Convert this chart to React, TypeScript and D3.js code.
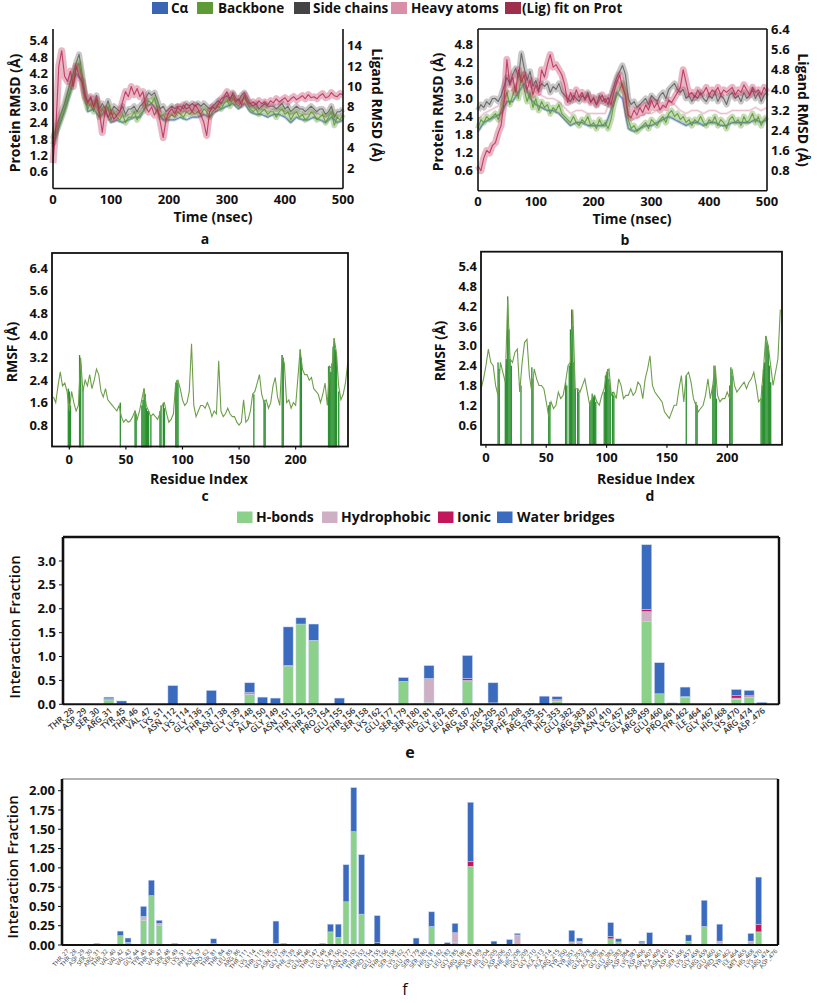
import React from "react";
import * as d3 from "d3";

// ---------------- DATA ----------------
const TIME_END = 500;
const legendTop = ["Cα", "Backbone", "Side chains", "Heavy atoms", "(Lig) fit on Prot"];

// Panel a (protein RMSD in Å on left axis, ligand RMSD on right axis)
const aCalpha = [1.5, 2.2, 2.8, 3.5, 4.2, 3.9, 2.8, 2.9, 2.6, 2.8, 2.4, 2.5, 2.4, 2.5, 2.6, 2.6, 3.0, 3.1, 2.8, 2.5, 2.5, 2.5, 2.6, 2.5, 2.6, 2.6, 2.7, 2.6, 2.8, 2.9, 3.0, 3.1, 2.9, 3.1, 2.8, 2.7, 2.7, 2.6, 2.7, 2.7, 2.6, 2.4, 2.6, 2.5, 2.5, 2.6, 2.5, 2.4, 2.6, 2.4, 2.5];
const aBackbone = [1.6, 2.0, 2.3, 2.6, 2.9, 3.3, 3.6, 4.0, 4.4, 4.6, 4.0, 3.3, 2.9, 3.1, 2.8, 3.2, 2.6, 2.9, 2.7, 3.0, 2.5, 2.8, 2.6, 2.5, 2.7, 2.4, 2.6, 2.6, 2.8, 2.5, 2.7, 2.8, 3.0, 3.2, 3.1, 3.3, 2.9, 2.6, 2.7, 2.5, 2.6, 2.7, 2.6, 2.8, 2.7, 2.6, 2.8, 2.7, 2.8, 2.7, 2.8, 2.7, 2.9, 2.8, 2.6, 2.8, 2.9, 3.0, 2.9, 3.1, 3.2, 3.0, 3.3, 3.1, 3.0, 3.2, 3.3, 3.1, 2.9, 2.8, 2.9, 2.7, 2.8, 2.9, 2.7, 2.8, 2.8, 2.6, 2.8, 2.9, 2.7, 2.8, 2.5, 2.7, 2.8, 2.6, 2.7, 2.5, 2.6, 2.8, 2.7, 2.5, 2.6, 2.7, 2.4, 2.6, 2.8, 2.3, 2.6, 2.5, 2.7];
const aSideChains = [1.8, 2.2, 2.5, 2.8, 3.1, 3.5, 3.9, 4.2, 4.6, 4.9, 4.2, 3.5, 3.1, 3.3, 3.0, 3.4, 2.9, 3.1, 2.9, 3.2, 2.8, 3.0, 2.9, 2.8, 3.0, 2.7, 2.9, 2.9, 3.0, 2.8, 3.0, 3.1, 3.3, 3.5, 3.4, 3.5, 3.2, 2.9, 3.0, 2.8, 2.9, 3.0, 2.9, 3.0, 3.0, 2.9, 3.1, 3.0, 3.1, 3.0, 3.1, 3.0, 3.1, 3.0, 2.9, 3.0, 3.1, 3.2, 3.1, 3.3, 3.4, 3.2, 3.5, 3.3, 3.2, 3.4, 3.5, 3.3, 3.1, 3.0, 3.1, 2.9, 3.0, 3.1, 3.0, 3.0, 3.0, 2.9, 3.0, 3.1, 2.9, 3.0, 2.8, 2.9, 3.0, 2.9, 2.9, 2.8, 2.9, 3.0, 2.9, 2.8, 2.9, 2.9, 2.7, 2.8, 3.0, 2.6, 2.8, 2.8, 2.9];
const aHeavy = [1.7, 2.4, 3.0, 3.8, 4.5, 4.1, 3.0, 3.2, 2.8, 3.0, 2.7, 2.7, 2.6, 2.7, 2.8, 2.8, 3.2, 3.3, 3.0, 2.7, 2.7, 2.8, 2.8, 2.8, 2.9, 2.8, 2.9, 2.9, 3.0, 3.1, 3.2, 3.3, 3.1, 3.3, 3.0, 2.9, 2.9, 2.8, 2.9, 2.9, 2.8, 2.7, 2.8, 2.7, 2.7, 2.8, 2.7, 2.6, 2.8, 2.6, 2.7];
const aLigFit = [2.5, 6, 12, 13.5, 11, 10.5, 11.5, 10, 12, 11, 10.5, 9, 8.5, 9, 8, 8.8, 7.5, 5.5, 7.8, 7, 7.5, 6.8, 7.2, 7.5, 8.5, 9.5, 9, 10, 9.2, 9.8, 9, 9.5, 8, 7.5, 8, 7.2, 7.8, 6.5, 5, 6.8, 7.5, 7.8, 7.3, 8, 7.6, 8.2, 7.8, 8.0, 7.5, 8.2, 7.8, 7.2, 6.5, 5.2, 7.5, 8, 7.8, 8.3, 8.8, 9, 9.5, 8.8, 9.2, 8.5, 8.8, 8.2, 9.2, 8.5, 8.3, 8.5, 8.2, 8.6, 8.3, 8.5, 8.2, 8.6, 8.4, 8.8, 8.5, 8.7, 8.9, 8.5, 8.8, 9, 8.7, 8.9, 9.1, 8.8, 9.2, 8.9, 9.0, 8.8, 9.1, 9.3, 8.9, 9.0, 9.4, 9.1, 9.0, 9.3, 9.2];

// Panel b
const bCalpha = [1.9, 2.2, 2.3, 2.4, 2.5, 2.9, 2.9, 3.2, 3.5, 3.0, 2.8, 2.7, 2.6, 2.6, 2.5, 2.3, 2.1, 2.2, 2.2, 2.1, 2.1, 2.1, 2.1, 2.6, 3.2, 3.0, 2.0, 1.9, 2.0, 2.1, 2.1, 2.2, 2.3, 2.4, 2.3, 2.2, 2.1, 2.2, 2.2, 2.1, 2.2, 2.2, 2.1, 2.1, 2.2, 2.2, 2.2, 2.2, 2.3, 2.2, 2.3];
const bBackbone = [2.0, 2.3, 2.2, 2.4, 2.3, 2.4, 2.5, 2.3, 2.6, 2.9, 3.2, 2.8, 3.1, 3.4, 3.0, 3.8, 3.3, 2.9, 3.2, 2.7, 3.0, 2.6, 2.9, 2.7, 2.8, 2.5, 2.7, 2.6, 2.8, 2.5, 2.4, 2.3, 2.2, 2.4, 2.2, 2.1, 2.3, 2.2, 2.4, 2.1, 2.2, 2.0, 2.3, 2.1, 2.2, 2.0, 2.3, 2.8, 3.1, 3.3, 3.5, 3.1, 2.3, 2.0, 2.1, 1.9, 2.0, 2.1, 2.2, 2.0, 2.3, 2.2, 2.1, 2.3, 2.4, 2.2, 2.5, 2.6, 2.4, 2.5, 2.3, 2.4, 2.2, 2.3, 2.1, 2.3, 2.2, 2.4, 2.2, 2.1, 2.3, 2.2, 2.4, 2.1, 2.3, 2.2, 2.0, 2.3, 2.4, 2.2, 2.3, 2.1, 2.4, 2.2, 2.3, 2.5, 2.2, 2.4, 2.1, 2.3, 2.4];
const bSideChains = [2.6, 2.8, 2.7, 2.9, 2.8, 3.0, 3.0, 2.9, 3.1, 3.4, 3.7, 3.5, 3.8, 4.0, 3.7, 4.5, 4.0, 3.6, 3.9, 3.4, 3.6, 3.3, 3.5, 3.4, 3.5, 3.2, 3.4, 3.3, 3.5, 3.2, 3.1, 3.0, 2.9, 3.1, 3.0, 2.9, 3.1, 3.0, 3.2, 2.9, 3.0, 2.8, 3.1, 2.9, 3.0, 2.8, 3.1, 3.4, 3.7, 3.9, 4.1, 3.8, 3.0, 2.8, 2.9, 2.7, 2.8, 2.9, 3.0, 2.8, 3.1, 3.0, 2.9, 3.1, 3.2, 3.0, 3.3, 3.4, 3.5, 3.3, 3.2, 3.3, 3.0, 3.1, 2.9, 3.1, 3.0, 3.2, 3.0, 2.9, 3.1, 3.0, 3.2, 2.9, 3.1, 3.0, 2.8, 3.1, 3.2, 3.0, 3.1, 2.9, 3.2, 3.0, 3.1, 3.3, 3.0, 3.2, 2.9, 3.1, 3.2];
const bHeavy = [2.3, 2.5, 2.6, 2.7, 2.8, 3.2, 3.3, 3.6, 3.9, 3.4, 3.2, 3.1, 3.0, 3.0, 2.9, 2.7, 2.5, 2.6, 2.6, 2.5, 2.5, 2.5, 2.5, 3.0, 3.6, 3.4, 2.4, 2.3, 2.4, 2.5, 2.5, 2.6, 2.7, 2.9, 2.8, 2.6, 2.5, 2.6, 2.6, 2.5, 2.6, 2.6, 2.5, 2.5, 2.6, 2.6, 2.6, 2.6, 2.7, 2.6, 2.7];
const bLigFit = [1.0, 0.8, 1.3, 1.6, 1.5, 1.8, 1.9, 2.3, 2.6, 3.5, 5.2, 4.2, 4.5, 3.9, 4.8, 4.3, 4.6, 4.0, 4.4, 3.8, 4.2, 3.9, 4.8, 4.5, 5.0, 5.4, 4.9, 5.0, 4.8, 4.6, 4.2, 3.5, 3.9, 3.6, 4.0, 3.7, 3.9, 3.6, 3.8, 3.5, 3.7, 3.4, 3.6, 3.8, 3.5, 3.7, 3.4, 3.9, 4.3, 4.6, 4.1, 3.8, 3.0, 2.9, 3.2, 3.0, 3.3, 3.1, 3.4, 3.2, 3.6, 3.3, 3.5, 3.2, 3.4, 3.3, 3.6, 3.5, 3.7, 3.9, 4.1, 4.8, 4.3, 3.8, 3.9, 3.7, 4.0, 3.8, 3.9, 4.1, 3.8, 4.0, 3.9, 4.1, 3.8, 4.0, 3.9, 4.0, 4.1, 3.8, 4.0, 3.9, 4.2, 4.0, 3.8, 4.1, 3.9, 4.0, 3.8, 4.1, 3.9];

const aLeftTicks = [0.6, 1.2, 1.8, 2.4, 3.0, 3.6, 4.2, 4.8, 5.4];
const aRightTicks = [2, 4, 6, 8, 10, 12, 14];
const bLeftTicks = [0.6, 1.2, 1.8, 2.4, 3.0, 3.6, 4.2, 4.8];
const bRightTicks = [0.8, 1.6, 2.4, 3.2, 4.0, 4.8, 5.6, 6.4];
const timeTicks = [0, 100, 200, 300, 400, 500];

// Panel c RMSF (residues -14..246 every 2)
const cResStart = -14;
const cResStep = 2;
const cRmsf = [1.8, 1.6, 2.2, 2.7, 2.2, 2.3, 2.0, 1.3, 2.0, 1.6, 1.3, 1.5, 3.2, 2.0, 2.4, 2.2, 2.6, 2.1, 2.4, 2.8, 2.6, 2.0, 1.8, 2.1, 1.7, 1.6, 1.5, 1.4, 1.3, 1.5, 1.1, 0.9, 1.0, 0.9, 0.95, 1.1, 1.3, 1.0, 1.3, 1.7, 2.1, 1.5, 1.3, 1.1, 1.2, 1.1, 1.0, 1.2, 1.5, 1.6, 1.2, 0.9, 1.0, 1.2, 2.3, 2.4, 2.1, 1.7, 1.5, 1.6, 2.0, 3.7, 1.5, 1.1, 1.3, 1.5, 1.5, 1.4, 1.6, 1.4, 1.1, 1.3, 1.2, 3.1, 1.3, 1.1, 1.2, 1.4, 1.2, 1.1, 1.1, 0.9, 0.8, 0.9, 1.7, 0.9, 1.0, 1.3, 1.9, 2.0, 2.3, 2.6, 1.9, 1.6, 1.7, 1.4, 1.6, 2.2, 2.5, 1.8, 1.5, 3.3, 3.0, 1.6, 1.7, 1.4, 1.6, 1.5, 2.5, 3.5, 2.8, 2.6, 2.6, 2.4, 2.5, 2.1, 2.0, 1.9, 1.6, 1.9, 2.3, 1.5, 2.9, 2.8, 3.9, 3.4, 2.2, 1.7, 1.9, 2.3, 3.0];
const cContactRes = [-1, 0, 1, 9, 10, 12, 45, 58, 59, 64, 65, 66, 67, 68, 69, 70, 72, 80, 81, 83, 84, 94, 95, 96, 163, 172, 173, 188, 189, 204, 205, 229, 230, 231, 232, 233, 234, 235, 236, 238];
const cContactVal = [2.1, 2.0, 1.5, 3.3, 3.0, 2.1, 1.6, 1.3, 1.2, 1.5, 1.7, 2.1, 1.9, 1.4, 1.3, 1.3, 1.1, 1.3, 1.5, 1.6, 1.4, 2.3, 2.4, 2.3, 1.9, 1.7, 1.6, 3.3, 3.2, 3.5, 3.2, 2.9, 2.8, 2.7, 3.0, 3.6, 3.9, 3.5, 3.3, 2.0];
const cYTicks = [0.8, 1.6, 2.4, 3.2, 4.0, 4.8, 5.6, 6.4];

// Panel d RMSF (residues -4..244 every 2)
const dResStart = -4;
const dResStep = 2;
const dRmsf = [1.7, 2.0, 2.4, 2.9, 2.5, 2.4, 1.8, 1.5, 2.5, 2.2, 1.9, 4.4, 2.6, 2.5, 2.8, 2.9, 1.6, 2.5, 3.1, 3.2, 2.1, 1.6, 2.3, 2.0, 1.8, 1.8, 1.7, 1.3, 0.85, 1.3, 1.1, 1.2, 1.6, 1.4, 1.5, 1.9, 2.4, 2.5, 4.1, 1.7, 1.7, 1.6, 1.8, 2.0, 1.6, 1.2, 1.4, 1.5, 1.3, 1.2, 1.5, 1.7, 2.2, 2.3, 1.5, 1.6, 1.4, 2.0, 1.8, 1.4, 1.5, 1.5, 1.7, 1.5, 1.6, 1.9, 1.8, 1.4, 2.0, 2.3, 2.7, 1.8, 1.6, 1.5, 1.4, 1.3, 1.0, 0.9, 0.8, 1.0, 1.2, 1.2, 1.7, 2.1, 1.3, 2.1, 2.2, 1.9, 1.4, 1.2, 1.0, 1.1, 1.2, 1.5, 2.0, 1.4, 1.8, 2.4, 1.5, 1.3, 1.4, 1.4, 1.6, 1.4, 2.3, 1.8, 1.6, 1.7, 1.8, 1.9, 1.7, 1.9, 2.0, 2.2, 1.8, 1.3, 1.4, 2.3, 3.3, 3.0, 2.4, 1.8, 2.2, 2.6, 4.1];
const dContactRes = [10, 11, 16, 17, 18, 19, 20, 21, 29, 38, 39, 52, 53, 66, 67, 69, 70, 71, 72, 73, 74, 76, 77, 86, 87, 88, 89, 90, 91, 98, 99, 100, 101, 102, 103, 105, 106, 166, 174, 175, 188, 189, 190, 191, 202, 203, 204, 228, 229, 230, 231, 232, 233, 234, 235, 236];
const dContactVal = [2.5, 2.3, 2.0, 2.6, 4.5, 3.5, 2.6, 2.4, 1.8, 2.35, 2.0, 1.2, 1.3, 1.9, 1.8, 2.4, 3.5, 4.1, 3.6, 2.5, 1.7, 1.7, 1.6, 1.3, 1.35, 1.55, 1.45, 1.5, 1.3, 1.6, 2.1, 2.2, 2.3, 2.0, 1.8, 1.6, 1.5, 2.1, 1.3, 1.2, 1.8, 2.4, 2.2, 1.4, 1.8, 2.35, 2.1, 1.4, 1.8, 2.3, 2.5, 3.3, 3.1, 3.0, 2.4, 1.9];
const dYTicks = [0.6, 1.2, 1.8, 2.4, 3.0, 3.6, 4.2, 4.8, 5.4];
const resTicks = [0, 50, 100, 150, 200];

// Panel e interactions
const legendInteractions = ["H-bonds", "Hydrophobic", "Ionic", "Water bridges"];
const eLabels = ["THR_28", "ASP_29", "SER_30", "ARG_31", "TYR_45", "THR_46", "VAL_47", "LYS_51", "ASN_112", "LYS_114", "GLY_136", "THR_137", "ASN_138", "GLY_139", "LYS_148", "ALA_150", "GLY_149", "ASN_151", "THR_152", "THR_153", "PRO_154", "GLU_155", "THR_156", "SER_158", "LYS_162", "GLU_177", "SER_179", "SER_180", "HIS_181", "GLY_182", "LEU_185", "ARG_187", "ASP_204", "HIS_205", "ASP_207", "PHE_208", "ARG_335", "TYR_351", "HIS_353", "GLU_382", "ARG_383", "ASN_407", "ASN_410", "LYS_457", "GLY_458", "ARG_459", "GLU_460", "PRO_461", "TYR_462", "ILE_464", "GLY_467", "HIS_468", "LYS_470", "ARG_474", "ASP_476"];
const eHbond = [0, 0, 0, 0.09, 0, 0, 0, 0, 0, 0, 0, 0, 0, 0, 0.2, 0, 0.02, 0.8, 1.68, 1.34, 0, 0, 0, 0, 0, 0, 0.48, 0, 0.04, 0, 0, 0.49, 0, 0.03, 0, 0, 0, 0, 0.06, 0, 0, 0, 0, 0, 0, 1.73, 0.22, 0, 0.14, 0, 0, 0, 0.1, 0.15, 0];
const eHydro = [0, 0, 0, 0.01, 0.01, 0, 0, 0, 0, 0, 0, 0, 0.01, 0, 0.02, 0, 0, 0, 0, 0, 0, 0, 0, 0, 0, 0, 0, 0, 0.5, 0, 0, 0.01, 0, 0, 0.01, 0, 0, 0, 0.02, 0.01, 0, 0, 0, 0.01, 0, 0.21, 0, 0.03, 0.02, 0, 0, 0, 0.03, 0.01, 0];
const eIonic = [0, 0, 0, 0.015, 0, 0, 0, 0, 0, 0, 0, 0, 0, 0, 0.03, 0, 0, 0.015, 0, 0, 0, 0, 0, 0, 0, 0, 0, 0, 0, 0, 0, 0.04, 0, 0, 0, 0, 0, 0, 0.02, 0, 0, 0, 0, 0, 0, 0.05, 0, 0, 0, 0, 0, 0, 0.05, 0.02, 0];
const eWater = [0, 0, 0, 0.035, 0.06, 0, 0, 0, 0.39, 0, 0, 0.29, 0, 0, 0.2, 0.15, 0.11, 0.805, 0.13, 0.34, 0, 0.13, 0, 0, 0, 0, 0.08, 0.01, 0.27, 0.005, 0, 0.48, 0, 0.42, 0, 0.01, 0.01, 0.17, 0.06, 0, 0, 0, 0, 0, 0, 1.35, 0.65, 0, 0.2, 0, 0, 0.01, 0.13, 0.11, 0.04];
const eYTicks = [0, 0.5, 1.0, 1.5, 2.0, 2.5, 3.0];

// Panel f interactions
const fLabels = ["THR_27", "THR_28", "ASP_29", "SER_30", "ARG_31", "THR_32", "VAL_40", "VAL_42", "VAL_43", "GLY_44", "TYR_45", "THR_46", "VAL_47", "SER_48", "SER_49", "LYS_51", "PHE_52", "ASN_57", "PRO_62", "THR_81", "THR_84", "LEU_85", "ARG_86", "THR_111", "LYS_114", "THR_115", "GLY_136", "ASN_137", "GLY_138", "PHE_139", "LYS_140", "GLN_146", "THR_147", "LYS_148", "GLY_149", "ALA_150", "ASN_151", "THR_152", "THR_153", "PRO_154", "GLU_155", "THR_156", "SER_158", "LYS_162", "GLU_177", "SER_179", "SER_180", "HIS_181", "GLY_182", "LEU_183", "GLY_185", "ARG_186", "ARG_187", "ASP_189", "HIS_204", "LEU_205", "ASP_206", "PHE_207", "HIS_208", "GLY_209", "GLY_210", "ALA_213", "ALA_214", "ARG_215", "TYR_350", "TYR_351", "HIS_353", "GLN_378", "ALA_380", "GLY_381", "GLU_382", "ARG_383", "ASP_384", "LYS_387", "ASP_406", "ASN_407", "ALA_409", "ASN_410", "ASP_411", "SER_456", "LYS_457", "GLY_458", "ARG_459", "GLU_460", "PRO_461", "TYR_462", "ILE_464", "MET_465", "HIS_468", "LYS_470", "ARG_474", "ASP_476"];
const fHbond = [0, 0, 0, 0, 0, 0, 0, 0.12, 0.035, 0, 0.32, 0.64, 0.25, 0, 0, 0, 0, 0, 0, 0, 0, 0, 0, 0, 0, 0, 0, 0.02, 0, 0, 0, 0, 0, 0, 0.17, 0.1, 0.56, 1.47, 0.4, 0, 0, 0, 0, 0, 0, 0, 0, 0.24, 0, 0, 0.03, 0, 1.02, 0, 0, 0, 0, 0, 0, 0, 0, 0, 0, 0, 0, 0, 0.03, 0, 0, 0, 0.08, 0.04, 0, 0, 0.03, 0, 0, 0, 0, 0, 0.05, 0, 0.24, 0, 0.02, 0, 0, 0, 0, 0.17, 0, 0];
const fHydro = [0, 0, 0, 0, 0, 0, 0, 0, 0, 0, 0.05, 0, 0.03, 0, 0, 0, 0, 0, 0, 0, 0, 0, 0, 0, 0, 0, 0, 0, 0, 0, 0, 0, 0, 0, 0, 0, 0, 0, 0, 0, 0, 0, 0, 0, 0, 0, 0, 0, 0, 0, 0.13, 0, 0, 0, 0, 0, 0, 0, 0.13, 0, 0, 0, 0, 0, 0, 0.04, 0.02, 0, 0, 0, 0, 0, 0, 0, 0, 0, 0, 0, 0, 0, 0, 0, 0, 0, 0.03, 0, 0, 0, 0.05, 0, 0, 0];
const fIonic = [0, 0, 0, 0, 0, 0, 0, 0, 0, 0, 0, 0, 0, 0, 0, 0, 0, 0, 0, 0.02, 0, 0, 0, 0, 0, 0, 0, 0, 0, 0, 0, 0, 0, 0, 0, 0, 0, 0, 0, 0, 0.03, 0, 0, 0, 0, 0, 0, 0, 0, 0, 0, 0, 0.06, 0, 0, 0, 0, 0, 0, 0, 0, 0, 0, 0, 0, 0, 0, 0, 0, 0, 0.03, 0, 0, 0, 0, 0, 0, 0, 0, 0, 0, 0, 0, 0, 0, 0, 0, 0, 0, 0.1, 0, 0.005];
const fWater = [0, 0, 0, 0, 0.02, 0, 0, 0.06, 0.055, 0, 0.13, 0.2, 0.04, 0, 0.02, 0, 0, 0, 0, 0.06, 0, 0, 0, 0, 0.01, 0, 0, 0.29, 0.02, 0, 0, 0, 0, 0.02, 0.1, 0.17, 0.48, 0.57, 0.77, 0, 0.35, 0, 0, 0.01, 0, 0.09, 0, 0.19, 0, 0.03, 0.12, 0, 0.77, 0, 0.01, 0.05, 0, 0.07, 0.02, 0, 0, 0, 0, 0, 0, 0.15, 0.04, 0, 0, 0.01, 0.18, 0.04, 0, 0, 0.02, 0.16, 0, 0, 0, 0, 0.08, 0, 0.34, 0.01, 0.22, 0, 0, 0, 0.1, 0.61, 0, 0];
const fYTicks = [0, 0.25, 0.5, 0.75, 1.0, 1.25, 1.5, 1.75, 2.0];

// ---------------- STYLE ----------------
const FONT = "'Open Sans', 'Noto Sans', sans-serif";
const C_CA = "#3b64b3";
const C_BB = "#5e9a36";
const C_SC = "#555555";
const C_HA = "#d890a8";
const C_LIG = "#bb2a55";
const topColors = [C_CA, C_BB, "#444444", C_HA, "#9e2f4c"];
const C_HB = "#8cd18a";
const C_HY = "#cdb0c3";
const C_IO = "#c2185b";
const C_WB = "#3a6bbf";
const intColors = [C_HB, C_HY, C_IO, C_WB];
const RMSF_LINE = "#6d9f4a";
const CONTACT = "#14841a";

type Series = { vals: number[]; color: string; right?: boolean; op: number; band: number };

function timeLine(vals: number[], xs: any, ys: any) {
  const n = vals.length;
  return d3
    .line<number>()
    .x((_, i) => xs((i * TIME_END) / (n - 1)))
    .y((v) => ys(v))(vals) as string;
}

function RmsdPanel(props: {
  xs: any; yl: any; yr: any; frame: { l: number; r: number; t: number; b: number; top: boolean };
  series: Series[]; leftTicks: number[]; rightTicks: number[]; rightFmt: (v: number) => string;
  leftTitle: [number, number]; rightTitle: [number, number]; timeTitle: [number, number]; letter: [number, number, string];
}) {
  const { xs, yl, yr, frame, series } = props;
  return (
    <g>
      {series.map((s, k) => {
        const ys = s.right ? yr : yl;
        const d = timeLine(s.vals, xs, ys);
        return (
          <g key={k}>
            <path d={d} fill="none" stroke={s.color} strokeWidth={s.band} strokeOpacity={s.op * 0.4} strokeLinejoin="round" />
            <path d={d} fill="none" stroke={s.color} strokeWidth={1.1} strokeOpacity={s.op} strokeLinejoin="round" />
          </g>
        );
      })}
      <line x1={frame.l} x2={frame.l} y1={frame.t} y2={frame.b} stroke="#111" strokeWidth={1.6} />
      <line x1={frame.r} x2={frame.r} y1={frame.t} y2={frame.b} stroke="#111" strokeWidth={1.6} />
      <line x1={frame.l} x2={frame.r} y1={frame.b} y2={frame.b} stroke="#111" strokeWidth={1.6} />
      {frame.top && <line x1={frame.l} x2={frame.r} y1={frame.t} y2={frame.t} stroke="#111" strokeWidth={1.6} />}
      {props.leftTicks.map((t) => (
        <text key={"l" + t} x={frame.l - 5} y={yl(t)} dy="0.35em" textAnchor="end" fontSize={13} fontWeight={700} fill="#111">
          {d3.format(".1f")(t)}
        </text>
      ))}
      {props.rightTicks.map((t) => (
        <text key={"r" + t} x={frame.r + 4} y={yr(t)} dy="0.35em" textAnchor="start" fontSize={13} fontWeight={700} fill="#111">
          {props.rightFmt(t)}
        </text>
      ))}
      {timeTicks.map((t) => (
        <text key={"x" + t} x={xs(t)} y={frame.b + 15.5} textAnchor="middle" fontSize={13} fontWeight={700} fill="#111">
          {t}
        </text>
      ))}
      <text transform={`translate(${props.leftTitle[0]},${props.leftTitle[1]}) rotate(-90)`} textAnchor="middle" dy="0.35em" fontSize={14} fontWeight={700} fill="#111">
        Protein RMSD (Å)
      </text>
      <text transform={`translate(${props.rightTitle[0]},${props.rightTitle[1]}) rotate(90)`} textAnchor="middle" dy="0.35em" fontSize={14} fontWeight={700} fill="#111">
        Ligand RMSD (Å)
      </text>
      <text x={props.timeTitle[0]} y={props.timeTitle[1]} textAnchor="middle" dy="0.35em" fontSize={14} fontWeight={700} fill="#111">
        Time (nsec)
      </text>
      <text x={props.letter[0]} y={props.letter[1]} textAnchor="middle" fontSize={14} fontWeight={700} fill="#111">
        {props.letter[2]}
      </text>
    </g>
  );
}

function RmsfPanel(props: {
  xs: any; ys: any; frame: { l: number; r: number; t: number; b: number };
  vals: number[]; start: number; step: number; cRes: number[]; cVal: number[]; yTicks: number[];
  yTitle: [number, number]; xTitle: [number, number]; letter: [number, number, string];
}) {
  const { xs, ys, frame } = props;
  const line = d3
    .line<number>()
    .x((_, i) => xs(props.start + i * props.step))
    .y((v) => ys(v));
  return (
    <g>
      {props.cRes.map((r, i) => {
        const x0 = xs(r - 0.5);
        const w = Math.max(1.3, xs(r + 0.5) - x0);
        return <rect key={i} x={x0} y={ys(props.cVal[i])} width={w} height={ys(0) - ys(props.cVal[i])} fill={CONTACT} opacity={0.9} />;
      })}
      <path d={line(props.vals) as string} fill="none" stroke={RMSF_LINE} strokeWidth={1.1} />
      <rect x={frame.l} y={frame.t} width={frame.r - frame.l} height={frame.b - frame.t} fill="none" stroke="#111" strokeWidth={1.8} />
      {resTicks.map((t) => (
        <g key={t}>
          <line x1={xs(t)} x2={xs(t)} y1={frame.b} y2={frame.b + 3} stroke="#111" strokeWidth={1.2} />
          <text x={xs(t)} y={frame.b + 17} textAnchor="middle" fontSize={13} fontWeight={700} fill="#111">
            {t}
          </text>
        </g>
      ))}
      {props.yTicks.map((t) => (
        <text key={"y" + t} x={frame.l - 4} y={ys(t)} dy="0.35em" textAnchor="end" fontSize={13} fontWeight={700} fill="#111">
          {d3.format(".1f")(t)}
        </text>
      ))}
      <text transform={`translate(${props.yTitle[0]},${props.yTitle[1]}) rotate(-90)`} textAnchor="middle" dy="0.35em" fontSize={14} fontWeight={700} fill="#111">
        RMSF (Å)
      </text>
      <text x={props.xTitle[0]} y={props.xTitle[1]} textAnchor="middle" dy="0.35em" fontSize={14} fontWeight={700} fill="#111">
        Residue Index
      </text>
      <text x={props.letter[0]} y={props.letter[1]} textAnchor="middle" fontSize={14} fontWeight={700} fill="#111">
        {props.letter[2]}
      </text>
    </g>
  );
}

function InteractionPanel(props: {
  labels: string[]; hb: number[]; hy: number[]; io: number[]; wb: number[];
  xs: any; ys: any; frame: { l: number; r: number; t: number; b: number };
  yTicks: number[]; fmt: (v: number) => string; labelSize: number; labelAngle: number; labelWeight: number;
  yTitle: [number, number]; letter: [number, number, string]; topStroke: string; letterWeight: number;
}) {
  const { xs, ys, frame } = props;
  const keys = ["hb", "hy", "io", "wb"];
  const rows = props.labels.map((l, i) => ({ label: l, hb: props.hb[i], hy: props.hy[i], io: props.io[i], wb: props.wb[i] }));
  const stacked = d3.stack<any>().keys(keys)(rows);
  return (
    <g>
      {stacked.map((layer, k) => (
        <g key={k} fill={intColors[k]}>
          {layer.map((seg, i) =>
            seg[1] - seg[0] > 0 ? (
              <rect key={i} x={xs(rows[i].label)} width={xs.bandwidth()} y={ys(seg[1])} height={ys(seg[0]) - ys(seg[1])} stroke="#c9d6ea" strokeWidth={0.5} />
            ) : null
          )}
        </g>
      ))}
      <line x1={frame.l} x2={frame.r} y1={frame.t} y2={frame.t} stroke={props.topStroke} strokeWidth={props.topStroke === "#111" ? 2.4 : 1.4} />
      <line x1={frame.l} x2={frame.l} y1={frame.t} y2={frame.b} stroke="#111" strokeWidth={2.6} />
      <line x1={frame.r} x2={frame.r} y1={frame.t} y2={frame.b} stroke="#111" strokeWidth={2.4} />
      <line x1={frame.l} x2={frame.r} y1={frame.b} y2={frame.b} stroke="#111" strokeWidth={2} />
      {props.yTicks.map((t) => (
        <g key={t}>
          <line x1={frame.l - 4} x2={frame.l} y1={ys(t)} y2={ys(t)} stroke="#111" strokeWidth={1} />
          <text x={frame.l - 7} y={ys(t)} dy="0.35em" textAnchor="end" fontSize={13} fontWeight={700} fill="#111">
            {props.fmt(t)}
          </text>
        </g>
      ))}
      {props.labels.map((l) => {
        const cx = xs(l) + xs.bandwidth() / 2;
        return (
          <text key={l} transform={`translate(${cx + 2},${frame.b + 5}) rotate(${props.labelAngle})`} textAnchor="end" dy="0.35em" fontSize={props.labelSize} fontWeight={props.labelWeight} fill="#333">
            {l}
          </text>
        );
      })}
      <text transform={`translate(${props.yTitle[0]},${props.yTitle[1]}) rotate(-90)`} textAnchor="middle" dy="0.35em" fontSize={15} fontWeight={600} fill="#111">
        Interaction Fraction
      </text>
      <text x={props.letter[0]} y={props.letter[1]} textAnchor="middle" fontSize={16} fontWeight={props.letterWeight} fill="#111">
        {props.letter[2]}
      </text>
    </g>
  );
}

export default function App() {
  // panel a scales
  const axs = d3.scaleLinear().domain([0, 500]).range([53, 343]);
  const ayl = d3.scaleLinear().domain([0, 5.8]).range([188.1, 188.1 - 5.8 * 27.29]);
  const ayr = d3.scaleLinear().domain([0, 15.5]).range([188.7, 188.7 - 15.5 * 10.22]);
  // panel b scales
  const bxs = d3.scaleLinear().domain([0, 500]).range([478, 767]);
  const byl = d3.scaleLinear().domain([0, 5.3]).range([188.8, 188.8 - 5.3 * 30.1]);
  const byr = d3.scaleLinear().domain([0, 6.4]).range([190.9, 29.3]);
  // panel c
  const cxs = d3.scaleLinear().domain([-15.3, 246]).range([52, 347.7]);
  const cys = d3.scaleLinear().domain([0, 6.95]).range([447.4, 447.4 - 6.95 * 27.98]);
  // panel d
  const dxs = d3.scaleLinear().domain([-4.1, 245.4]).range([481, 782]);
  const dys = d3.scaleLinear().domain([0, 5.855]).range([444.8, 444.8 - 5.855 * 32.98]);
  // panel e
  const exs = d3.scaleBand<string>().domain(eLabels).range([64.2, 768.2]).paddingInner(0.22).paddingOuter(0.1);
  const eys = d3.scaleLinear().domain([0, 3.5]).range([704.3, 704.3 - 3.5 * 47.77]);
  // panel f
  const fxs = d3.scaleBand<string>().domain(fLabels).range([62, 778]).paddingInner(0.24).paddingOuter(0.1);
  const fys = d3.scaleLinear().domain([0, 2.15]).range([945, 945 - 2.15 * 77.15]);

  const topLegendPos = [[152, 171], [197, 218], [294, 313], [391, 411], [505, 522]];
  const intLegendPos = [[237, 256], [322, 341], [438, 457], [497, 517]];

  return (
    <div style={{ position: "absolute", left: 0, top: 0, width: 817, height: 1003, background: "#fff" }}>
      <svg width={817} height={1003} style={{ display: "block", fontFamily: FONT }}>
        <rect width={817} height={1003} fill="#fff" />
        {/* top legend */}
        {legendTop.map((name, i) => (
          <g key={name}>
            <rect x={topLegendPos[i][0]} y={2} width={16} height={12} fill={topColors[i]} />
            <text x={topLegendPos[i][1]} y={13} fontSize={13.5} fontWeight={700} fill="#111">
              {name}
            </text>
          </g>
        ))}

        <RmsdPanel
          xs={axs} yl={ayl} yr={ayr}
          frame={{ l: 53, r: 343, t: 29, b: 188.5, top: false }}
          series={[
            { vals: aCalpha, color: C_CA, op: 0.7, band: 3 },
            { vals: aHeavy, color: C_HA, op: 0.5, band: 3 },
            { vals: aSideChains, color: C_SC, op: 0.8, band: 6 },
            { vals: aBackbone, color: C_BB, op: 0.9, band: 6 },
            { vals: aLigFit, color: C_LIG, right: true, op: 0.85, band: 7 },
          ]}
          leftTicks={aLeftTicks} rightTicks={aRightTicks} rightFmt={(v) => String(v)}
          leftTitle={[15, 113]} rightTitle={[377, 105]} timeTitle={[213, 217.5]} letter={[205, 244, "a"]}
        />
        <RmsdPanel
          xs={bxs} yl={byl} yr={byr}
          frame={{ l: 478, r: 767, t: 29, b: 190.7, top: true }}
          series={[
            { vals: bCalpha, color: C_CA, op: 0.7, band: 3 },
            { vals: bHeavy, color: C_HA, op: 0.45, band: 3 },
            { vals: bSideChains, color: C_SC, op: 0.8, band: 6 },
            { vals: bBackbone, color: C_BB, op: 0.9, band: 6 },
            { vals: bLigFit, color: C_LIG, right: true, op: 0.85, band: 7 },
          ]}
          leftTicks={bLeftTicks} rightTicks={bRightTicks} rightFmt={(v) => d3.format(".1f")(v)}
          leftTitle={[438, 112]} rightTitle={[803, 110]} timeTitle={[632, 219.5]} letter={[625, 245, "b"]}
        />

        <RmsfPanel
          xs={cxs} ys={cys} frame={{ l: 52, r: 348, t: 253, b: 446.5 }}
          vals={cRmsf} start={cResStart} step={cResStep} cRes={cContactRes} cVal={cContactVal} yTicks={cYTicks}
          yTitle={[12, 352]} xTitle={[199, 479]} letter={[205, 501, "c"]}
        />
        <RmsfPanel
          xs={dxs} ys={dys} frame={{ l: 481, r: 782, t: 251.7, b: 444.8 }}
          vals={dRmsf} start={dResStart} step={dResStep} cRes={dContactRes} cVal={dContactVal} yTicks={dYTicks}
          yTitle={[440, 351]} xTitle={[646, 479]} letter={[650, 501, "d"]}
        />

        {/* interaction legend */}
        {legendInteractions.map((name, i) => (
          <g key={name}>
            <rect x={intLegendPos[i][0]} y={511.5} width={15.5} height={11.5} fill={intColors[i]} />
            <text x={intLegendPos[i][1]} y={522} fontSize={14} fontWeight={700} fill="#111">
              {name}
            </text>
          </g>
        ))}

        <InteractionPanel
          labels={eLabels} hb={eHbond} hy={eHydro} io={eIonic} wb={eWater}
          xs={exs} ys={eys} frame={{ l: 63, r: 779, t: 537, b: 704.3 }}
          yTicks={eYTicks} fmt={(v) => d3.format(".1f")(v)} labelSize={8.5} labelAngle={-40} labelWeight={600}
          yTitle={[15, 627]} letter={[410, 758, "e"]} topStroke="#111" letterWeight={700}
        />
        <InteractionPanel
          labels={fLabels} hb={fHbond} hy={fHydro} io={fIonic} wb={fWater}
          xs={fxs} ys={fys} frame={{ l: 62, r: 778, t: 779, b: 945 }}
          yTicks={fYTicks} fmt={(v) => d3.format(".2f")(v)} labelSize={6} labelAngle={-48} labelWeight={400}
          yTitle={[13, 867]} letter={[405, 995, "f"]} topStroke="#999" letterWeight={400}
        />
      </svg>
    </div>
  );
}
